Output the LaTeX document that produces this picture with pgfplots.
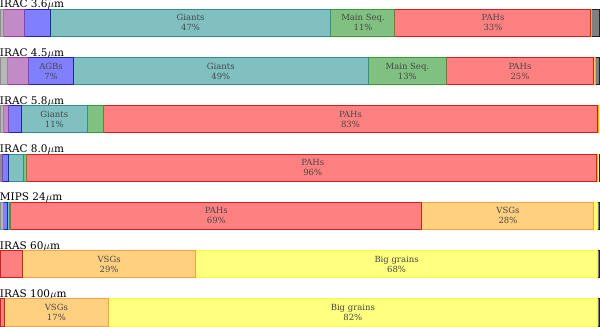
\documentclass[border=0pt]{standalone}
\usepackage{pgfplots}
\pgfplotsset{compat=1.18}
\usepackage{fontspec}
\setmainfont{DejaVu Serif}
\definecolor{fGrey}{HTML}{B8B8B8}\definecolor{eGrey}{HTML}{8C8C8C}
\definecolor{fPur}{HTML}{C38AC8}\definecolor{ePur}{HTML}{9A3D9A}
\definecolor{fBlue}{HTML}{8080FF}\definecolor{eBlue}{HTML}{2020C0}
\definecolor{fTeal}{HTML}{80C0C0}\definecolor{eTeal}{HTML}{309090}
\definecolor{fGreen}{HTML}{80C080}\definecolor{eGreen}{HTML}{30A030}
\definecolor{fRed}{HTML}{FF8080}\definecolor{eRed}{HTML}{D02020}
\definecolor{fOr}{HTML}{FFD080}\definecolor{eOr}{HTML}{FFA040}
\definecolor{fYel}{HTML}{FFFF80}\definecolor{eYel}{HTML}{FFFF30}
\definecolor{fDark}{HTML}{808080}\definecolor{eDark}{HTML}{202020}
\tikzset{lab/.style={align=center, inner sep=0pt, text=black!72, font=\fontsize{8.5}{10}\selectfont},
  ttl/.style={anchor=base west, inner sep=0pt, yshift=1.5bp, font=\fontsize{10.5}{12}\selectfont}}
\begin{document}
\begin{tikzpicture}
\begin{axis}[xbar stacked, scale only axis, width=598bp, height=328.7bp,
  xmin=0, xmax=100, ymin=-0.52, ymax=6.3, y dir=reverse, axis lines=none,
  bar width=27bp, clip=false,
  every axis plot/.append style={line width=0.8bp}]
\addplot[fill=fGrey, draw=eGrey] coordinates {(0.5,0) (1.2,1) (0.5,2) (0.2,3) (0.5,4) (0,5) (0,6)};
\addplot[fill=fPur, draw=ePur] coordinates {(3.5,0) (3.5,1) (0.8,2) (0.1,3) (0,4) (0,5) (0,6)};
\addplot[fill=fBlue, draw=eBlue] coordinates {(4.3,0) (7.4,1) (2.2,2) (1.0,3) (0.6,4) (0,5) (0,6)};
\addplot[fill=fTeal, draw=eTeal] coordinates {(46.8,0) (49.3,1) (10.9,2) (2.5,3) (0.3,4) (0,5) (0,6)};
\addplot[fill=fGreen, draw=eGreen] coordinates {(10.7,0) (13.0,1) (2.7,2) (0.5,3) (0.2,4) (0,5) (0,6)};
\addplot[fill=fRed, draw=eRed] coordinates {(32.6,0) (24.6,1) (82.6,2) (95.2,3) (68.7,4) (3.7,5) (0.7,6)};
\addplot[fill=fOr, draw=eOr] coordinates {(0.2,0) (0.3,1) (0.1,2) (0.2,3) (28.6,4) (28.8,5) (17.2,6)};
\addplot[fill=fYel, draw=eYel] coordinates {(0,0) (0,1) (0.1,2) (0.1,3) (0.7,4) (67.2,5) (81.8,6)};
\addplot[fill=fDark, draw=eDark] coordinates {(1.3,0) (0.7,1) (0.1,2) (0.2,3) (0.3,4) (0.3,5) (0.3,6)};
% titles
\node[ttl] at (axis cs:-0.15,-0.28) {IRAC 3.6$\mu$m};
\node[ttl] at (axis cs:-0.15,0.72) {IRAC 4.5$\mu$m};
\node[ttl] at (axis cs:-0.15,1.72) {IRAC 5.8$\mu$m};
\node[ttl] at (axis cs:-0.15,2.72) {IRAC 8.0$\mu$m};
\node[ttl] at (axis cs:-0.15,3.72) {MIPS 24$\mu$m};
\node[ttl] at (axis cs:-0.15,4.72) {IRAS 60$\mu$m};
\node[ttl] at (axis cs:-0.15,5.72) {IRAS 100$\mu$m};
% label positions
\coordinate (L1) at (axis cs:31.7,0);
\coordinate (L2) at (axis cs:60.5,0);
\coordinate (L3) at (axis cs:82.2,0);
\coordinate (L4) at (axis cs:8.4,1);
\coordinate (L5) at (axis cs:36.75,1);
\coordinate (L6) at (axis cs:67.9,1);
\coordinate (L7) at (axis cs:86.7,1);
\coordinate (L8) at (axis cs:8.95,2);
\coordinate (L9) at (axis cs:58.4,2);
\coordinate (L10) at (axis cs:52.1,3);
\coordinate (L11) at (axis cs:36.0,4);
\coordinate (L12) at (axis cs:84.7,4);
\coordinate (L13) at (axis cs:18.1,5);
\coordinate (L14) at (axis cs:66.1,5);
\coordinate (L15) at (axis cs:9.3,6);
\coordinate (L16) at (axis cs:58.8,6);
\end{axis}
\node[lab] at (L1) {Giants\\47\%};
\node[lab] at (L2) {Main Seq.\\11\%};
\node[lab] at (L3) {PAHs\\33\%};
\node[lab] at (L4) {AGBs\\7\%};
\node[lab] at (L5) {Giants\\49\%};
\node[lab] at (L6) {Main Seq.\\13\%};
\node[lab] at (L7) {PAHs\\25\%};
\node[lab] at (L8) {Giants\\11\%};
\node[lab] at (L9) {PAHs\\83\%};
\node[lab] at (L10) {PAHs\\96\%};
\node[lab] at (L11) {PAHs\\69\%};
\node[lab] at (L12) {VSGs\\28\%};
\node[lab] at (L13) {VSGs\\29\%};
\node[lab] at (L14) {Big grains\\68\%};
\node[lab] at (L15) {VSGs\\17\%};
\node[lab] at (L16) {Big grains\\82\%};
\end{tikzpicture}
\end{document}
